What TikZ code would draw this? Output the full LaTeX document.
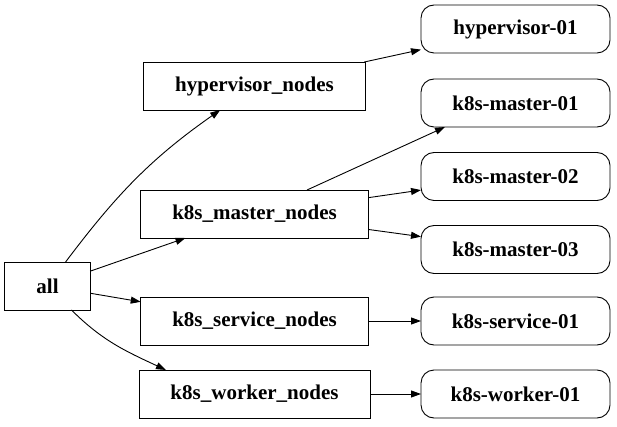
\documentclass[tikz,border=0pt]{standalone}
\usepackage{fontspec}
\setmainfont{Liberation Serif}
\usepackage{tikz}
\usetikzlibrary{arrows.meta}
\tikzset{group box/.style={
        draw, inner xsep=31.5pt, minimum height=48pt,
        font=\fontsize{21}{25}\selectfont\bfseries,
        outer sep=0pt,
    },
    host box/.style={
        draw, rounded corners=13pt, minimum width=189pt, minimum height=48pt,
        font=\fontsize{21}{25}\selectfont\bfseries,
        outer sep=0pt,
    },
    edge/.style={
        -{Triangle[length=10pt,width=7pt]}, line width=0.9pt,
    },
}

\begin{document}
\begin{tikzpicture}[x=1pt, y=-1pt, line width=0.9pt]
    \useasboundingbox (0,0) rectangle (617,427);

    %% the root
        \node [group box] at (47.5,286) (all) {all};
    %% the groups
        \node [group box] at (254.5,86) (hypervisor_nodes) {hypervisor\_nodes};
        \node [group box] at (254.5,214) (master_nodes) {k8s\_master\_nodes};
        \node [group box] at (254.5,321) (service_nodes) {k8s\_service\_nodes};
        \node [group box] at (254.5,394) (worker_nodes) {k8s\_worker\_nodes};
    %% the hosts
        \node [host box] at (515.5,29) (hypervisor01) {hypervisor-01};
        \node [host box] at (515.5,103) (master01) {k8s-master-01};
        \node [host box] at (515.5,176.5) (master02) {k8s-master-02};
        \node [host box] at (515.5,249.5) (master03) {k8s-master-03};
        \node [host box] at (515.5,321) (service01) {k8s-service-01};
        \node [host box] at (515.5,394) (worker01) {k8s-worker-01};

    %% edges from all (angles are taken on the page, y up)
        \draw [edge] (all) to [out=53, in=-145] (hypervisor_nodes);
        \draw [edge] (all) -- (master_nodes);
        \draw [edge] (all) -- (service_nodes);
        \draw [edge] (all) to [out=-45, in=155] ([xshift=27pt]worker_nodes.north west);
    %% edges to the hosts
        \draw [edge] (hypervisor_nodes) -- (hypervisor01);
        \draw [edge] (master_nodes) -- ([xshift=24pt]master01.south west);
        \draw [edge] (master_nodes) -- (master02);
        \draw [edge] (master_nodes) -- (master03);
        \draw [edge] (service_nodes) -- (service01);
        \draw [edge] (worker_nodes) -- (worker01);

    \end{tikzpicture}
\end{document}
